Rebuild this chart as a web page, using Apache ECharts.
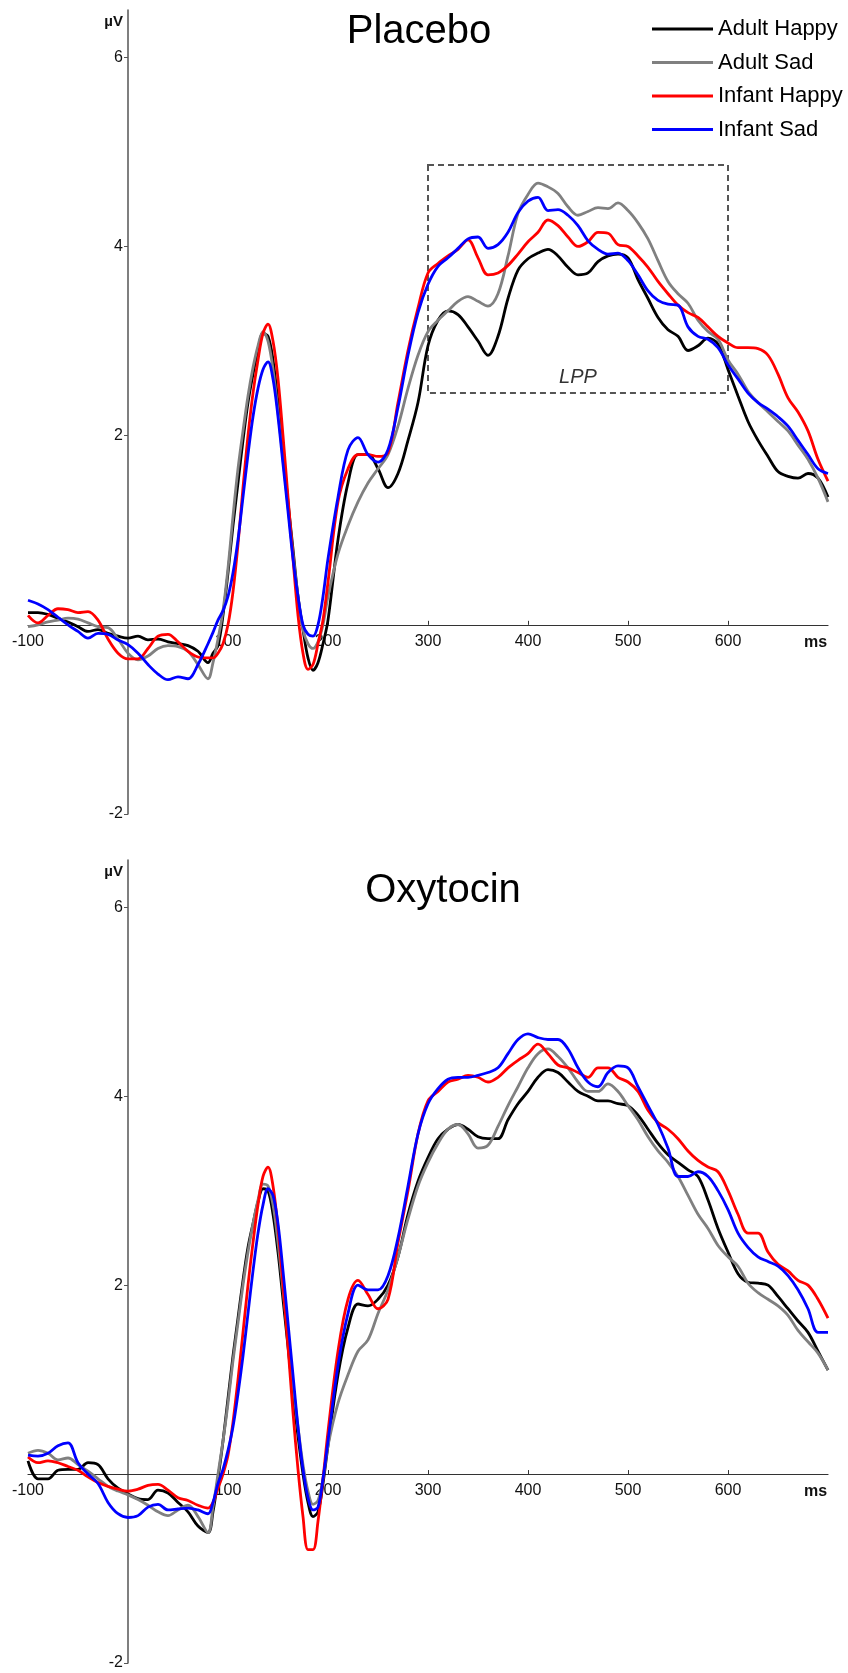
<!DOCTYPE html>
<html><head><meta charset="utf-8">
<script src="https://cdn.jsdelivr.net/npm/echarts@6/dist/echarts.min.js"></script>
<style>html,body{margin:0;padding:0;background:#fff}#c{width:848px;height:1673px}</style>
</head><body><div id="c"></div>
<script>
// time points (ms)
const timesMs = [-100,-90,-80,-70,-60,-50,-40,-30,-20,-10,0,10,20,30,40,50,60,70,80,
  85,90,95,100,105,110,115,120,125,130,135,140,145,150,155,160,165,170,175,180,185,190,195,200,
  210,220,230,240,250,260,270,280,290,300,310,320,330,340,350,360,370,380,390,400,
  410,420,430,440,450,460,470,480,490,500,510,520,530,540,550,560,570,580,590,600,
  610,620,630,640,650,660,670,680,690,700];

const seriesNames = ['Adult Happy','Adult Sad','Infant Happy','Infant Sad'];
const panelTitles = ['Placebo','Oxytocin'];
const xTickValues = [-100,100,200,300,400,500,600];
const yTickValues = [-2,2,4,6];
const lppWindowMs = [300,600];
const lppWindowUv = [2.45,4.86];

// Placebo (µV)
const placeboAdultHappy = [0.13,0.13,0.11,0.07,0.03,-0.02,-0.07,-0.05,-0.09,-0.12,-0.14,-0.12,-0.16,-0.15,-0.18,-0.2,-0.22,-0.28,-0.4,
  -0.3,-0.22,0.1,0.55,1.05,1.5,1.95,2.35,2.65,2.9,3.08,3.05,2.8,2.35,1.85,1.3,0.8,0.3,-0.05,-0.35,-0.48,-0.4,-0.2,0.05,
  0.9,1.5,1.8,1.8,1.65,1.45,1.6,1.95,2.35,2.95,
  3.22,3.32,3.28,3.15,3.0,2.85,3.05,3.45,3.75,3.87,
  3.93,3.97,3.9,3.78,3.7,3.72,3.84,3.9,3.92,3.88,
  3.65,3.45,3.25,3.12,3.05,2.9,2.95,3.03,2.97,2.7,
  2.42,2.15,1.95,1.78,1.62,1.57,1.55,1.6,1.55,1.35];
const placeboAdultSad = [-0.02,0.0,0.03,0.05,0.07,0.06,0.02,-0.02,-0.03,-0.15,-0.3,-0.37,-0.33,-0.25,-0.22,-0.23,-0.28,-0.42,-0.57,
  -0.4,-0.15,0.15,0.6,1.15,1.65,2.05,2.42,2.72,2.95,3.1,3.0,2.7,2.25,1.75,1.25,0.75,0.3,-0.05,-0.2,-0.25,-0.18,0.0,0.3,
  0.75,1.05,1.3,1.5,1.65,1.8,2.1,2.5,2.85,3.1,
  3.22,3.32,3.42,3.47,3.42,3.37,3.5,3.9,4.35,4.55,
  4.67,4.63,4.56,4.42,4.33,4.37,4.41,4.4,4.46,4.38,
  4.25,4.08,3.85,3.63,3.5,3.4,3.22,3.1,3.02,2.8,
  2.65,2.47,2.35,2.25,2.15,2.05,1.9,1.75,1.55,1.3];
const placeboInfantHappy = [0.1,0.02,0.1,0.17,0.16,0.13,0.14,0.05,-0.15,-0.3,-0.36,-0.36,-0.25,-0.12,-0.1,-0.18,-0.28,-0.34,-0.35,
  -0.35,-0.3,-0.2,0.0,0.35,0.85,1.45,2.0,2.45,2.8,3.08,3.18,3.0,2.6,2.0,1.35,0.7,0.1,-0.3,-0.47,-0.42,-0.2,0.05,0.45,
  1.3,1.65,1.8,1.8,1.78,1.82,2.35,2.9,3.35,3.72,
  3.82,3.9,3.97,4.07,3.88,3.7,3.72,3.8,3.92,4.05,
  4.15,4.28,4.22,4.1,4.0,4.05,4.15,4.14,4.02,4.0,
  3.9,3.78,3.63,3.5,3.38,3.3,3.25,3.15,3.05,2.98,
  2.93,2.93,2.92,2.85,2.65,2.4,2.25,2.05,1.75,1.52];
const placeboInfantSad = [0.26,0.22,0.16,0.08,0.0,-0.07,-0.14,-0.09,-0.1,-0.16,-0.21,-0.3,-0.42,-0.52,-0.58,-0.55,-0.57,-0.42,-0.2,
  -0.08,0.05,0.15,0.3,0.55,0.9,1.35,1.8,2.2,2.5,2.7,2.78,2.6,2.2,1.7,1.2,0.7,0.3,0.0,-0.1,-0.12,0.0,0.3,0.7,
  1.35,1.85,1.98,1.8,1.72,1.85,2.3,2.85,3.3,3.6,
  3.79,3.88,3.98,4.08,4.1,3.98,4.02,4.15,4.36,4.48,
  4.52,4.38,4.39,4.33,4.22,4.06,3.97,3.92,3.93,3.85,
  3.7,3.53,3.43,3.39,3.38,3.15,3.05,3.02,2.93,2.75,
  2.6,2.45,2.35,2.28,2.2,2.1,1.95,1.8,1.65,1.6];

// Oxytocin (µV)
const oxyAdultHappy = [0.14,-0.05,-0.05,0.04,0.05,0.05,0.12,0.1,-0.05,-0.15,-0.21,-0.26,-0.27,-0.17,-0.2,-0.3,-0.4,-0.55,-0.62,
  -0.4,-0.05,0.35,0.8,1.25,1.65,2.05,2.4,2.65,2.88,3.02,3.0,2.75,2.35,1.85,1.35,0.85,0.4,0.0,-0.3,-0.45,-0.4,-0.1,0.3,
  1.05,1.55,1.8,1.78,1.85,2.0,2.3,2.75,3.1,3.35,
  3.55,3.65,3.7,3.65,3.57,3.55,3.55,3.75,3.92,4.05,
  4.2,4.28,4.25,4.15,4.05,4.0,3.95,3.95,3.92,3.9,
  3.8,3.65,3.5,3.38,3.3,3.22,3.15,2.9,2.6,2.35,
  2.12,2.03,2.02,2.0,1.88,1.75,1.62,1.5,1.3,1.1];
const oxyAdultSad = [0.22,0.25,0.22,0.15,0.17,0.1,0.03,-0.05,-0.13,-0.18,-0.22,-0.27,-0.33,-0.4,-0.44,-0.38,-0.33,-0.45,-0.62,
  -0.35,0.0,0.35,0.75,1.2,1.6,2.0,2.35,2.65,2.9,3.07,3.05,2.85,2.45,1.95,1.45,0.95,0.5,0.1,-0.18,-0.32,-0.28,-0.05,0.3,
  0.75,1.05,1.3,1.42,1.7,1.95,2.3,2.7,3.05,3.3,
  3.5,3.65,3.7,3.6,3.45,3.48,3.68,3.9,4.1,4.3,
  4.45,4.5,4.42,4.3,4.15,4.05,4.05,4.13,4.05,3.9,
  3.75,3.57,3.42,3.3,3.15,2.95,2.75,2.6,2.42,2.3,
  2.2,2.02,1.92,1.85,1.78,1.68,1.52,1.4,1.28,1.1];
const oxyInfantHappy = [0.18,0.12,0.14,0.12,0.08,0.04,-0.03,-0.09,-0.13,-0.16,-0.18,-0.16,-0.12,-0.11,-0.17,-0.25,-0.28,-0.33,-0.36,
  -0.3,-0.15,0.0,0.2,0.55,1.0,1.5,2.0,2.45,2.85,3.15,3.25,3.05,2.6,2.0,1.35,0.65,0.05,-0.45,-0.8,-0.8,-0.5,-0.05,0.45,
  1.3,1.85,2.05,1.9,1.75,1.85,2.45,3.0,3.6,3.95,
  4.05,4.15,4.18,4.22,4.2,4.15,4.2,4.3,4.38,4.45,
  4.55,4.45,4.33,4.3,4.25,4.2,4.3,4.3,4.2,4.15,
  4.05,3.85,3.72,3.65,3.55,3.42,3.32,3.25,3.2,3.0,
  2.75,2.55,2.55,2.35,2.22,2.15,2.05,2.0,1.85,1.65];
const oxyInfantSad = [0.2,0.19,0.22,0.3,0.33,0.12,0.0,-0.1,-0.3,-0.42,-0.46,-0.44,-0.35,-0.32,-0.38,-0.37,-0.36,-0.38,-0.42,
  -0.3,-0.1,0.05,0.25,0.5,0.85,1.25,1.7,2.15,2.55,2.85,3.02,2.95,2.65,2.15,1.6,1.05,0.5,0.05,-0.25,-0.38,-0.35,-0.05,0.35,
  1.15,1.7,2.0,1.95,1.95,2.1,2.5,3.05,3.6,3.92,
  4.08,4.18,4.2,4.2,4.22,4.25,4.3,4.45,4.6,4.66,
  4.62,4.6,4.6,4.5,4.3,4.15,4.1,4.25,4.32,4.3,
  4.1,3.9,3.7,3.45,3.15,3.15,3.2,3.15,3.0,2.8,
  2.55,2.4,2.3,2.25,2.2,2.1,1.95,1.75,1.5,1.5];

const FONT = "'Liberation Sans', Arial, Helvetica, sans-serif";
const lineColors = ['#000000','#808080','#ff0000','#0000ff'];
const panels = [
  [placeboAdultHappy, placeboAdultSad, placeboInfantHappy, placeboInfantSad],
  [oxyAdultHappy, oxyAdultSad, oxyInfantHappy, oxyInfantSad]
];

const X_MIN = -100, X_MAX = 700, Y_MIN = -2, Y_MAX = 6.5;
const grids = [
  {left:28, right:20, top:10, height:804},
  {left:28, right:20, top:860, height:803}
];
const GRID_W = 848 - 28 - 20;

function pairs(vals){ return timesMs.map((t,i)=>[t, vals[i]]); }

function xAxisCfg(gi){
  // place the axis at 0 µV
  const off = -grids[gi].height * (0 - Y_MIN) / (Y_MAX - Y_MIN);
  return {
    type:'value', gridIndex:gi, min:X_MIN, max:X_MAX, interval:100, position:'bottom', offset:off,
    axisLine:{onZero:false, lineStyle:{color:'#333', width:1.2}},
    axisTick:{show:true, inside:true, length:4, customValues:xTickValues.filter(v=>v>0), lineStyle:{color:'#333'}},
    axisLabel:{customValues:xTickValues, fontSize:16, color:'#111', fontFamily:FONT, margin:9,
      formatter:v=> (v===0||v===700)?'':String(v)},
    splitLine:{show:false},
    name:'ms', nameLocation:'end', nameGap:-24,
    nameTextStyle:{fontWeight:'bold', fontSize:16, color:'#111', fontFamily:FONT, verticalAlign:'top', padding:[10,0,0,0]}
  };
}
function yAxisCfg(gi){
  // place the axis at 0 ms
  const off = -GRID_W * (0 - X_MIN) / (X_MAX - X_MIN);
  return {
    type:'value', gridIndex:gi, min:Y_MIN, max:Y_MAX, interval:2, position:'left', offset:off,
    axisLine:{onZero:false, lineStyle:{color:'#555', width:1.5}},
    axisTick:{show:true, length:4, customValues:yTickValues, lineStyle:{color:'#555'}},
    axisLabel:{customValues:yTickValues, fontSize:16, color:'#111', fontFamily:FONT, margin:5,
      formatter:v=> (v===0||v===6.5)?'':String(v)},
    splitLine:{show:false},
    name:'µV', nameLocation:'end', nameGap:-12,
    nameTextStyle:{fontWeight:'bold', fontSize:15, color:'#111', fontFamily:FONT, align:'right', verticalAlign:'middle', padding:[0,5,0,0]}
  };
}

const series = [];
panels.forEach((vals, gi)=>{
  vals.forEach((v, si)=>{
    const s = {
      name:seriesNames[si], type:'line', xAxisIndex:gi, yAxisIndex:gi,
      data:pairs(v), showSymbol:false, smooth:0.35,
      color:lineColors[si],
      lineStyle:{color:lineColors[si], width:2.8},
      z:2+si, silent:true
    };
    if (gi===0 && si===0){
      s.markArea = {
        silent:true,
        itemStyle:{color:'rgba(0,0,0,0)', borderColor:'#555', borderWidth:2, borderType:[6,4]},
        label:{show:true, position:'insideBottom', distance:7, fontStyle:'italic', fontSize:20, color:'#333', fontFamily:FONT},
        data:[[{name:'LPP', xAxis:lppWindowMs[0], yAxis:lppWindowUv[1]},{xAxis:lppWindowMs[1], yAxis:lppWindowUv[0]}]]
      };
    }
    series.push(s);
  });
});

const chart = echarts.init(document.getElementById('c'), null, {renderer:'canvas'});
chart.setOption({
  animation:false,
  backgroundColor:'#fff',
  grid:grids,
  xAxis:[xAxisCfg(0), xAxisCfg(1)],
  yAxis:[yAxisCfg(0), yAxisCfg(1)],
  legend:{
    orient:'vertical', left:647, top:13, itemWidth:61, itemHeight:3, itemGap:11.5, icon:'rect',
    selectedMode:false, data:seriesNames,
    textStyle:{fontSize:22, lineHeight:22, color:'#000', fontFamily:FONT}
  },
  graphic:[
    {type:'text', x:419, y:32, style:{text:panelTitles[0], fontSize:40, fontFamily:FONT, fill:'#000', align:'center', verticalAlign:'middle'}},
    {type:'text', x:443, y:891, style:{text:panelTitles[1], fontSize:40, fontFamily:FONT, fill:'#000', align:'center', verticalAlign:'middle'}}
  ],
  series:series
});
</script></body></html>
